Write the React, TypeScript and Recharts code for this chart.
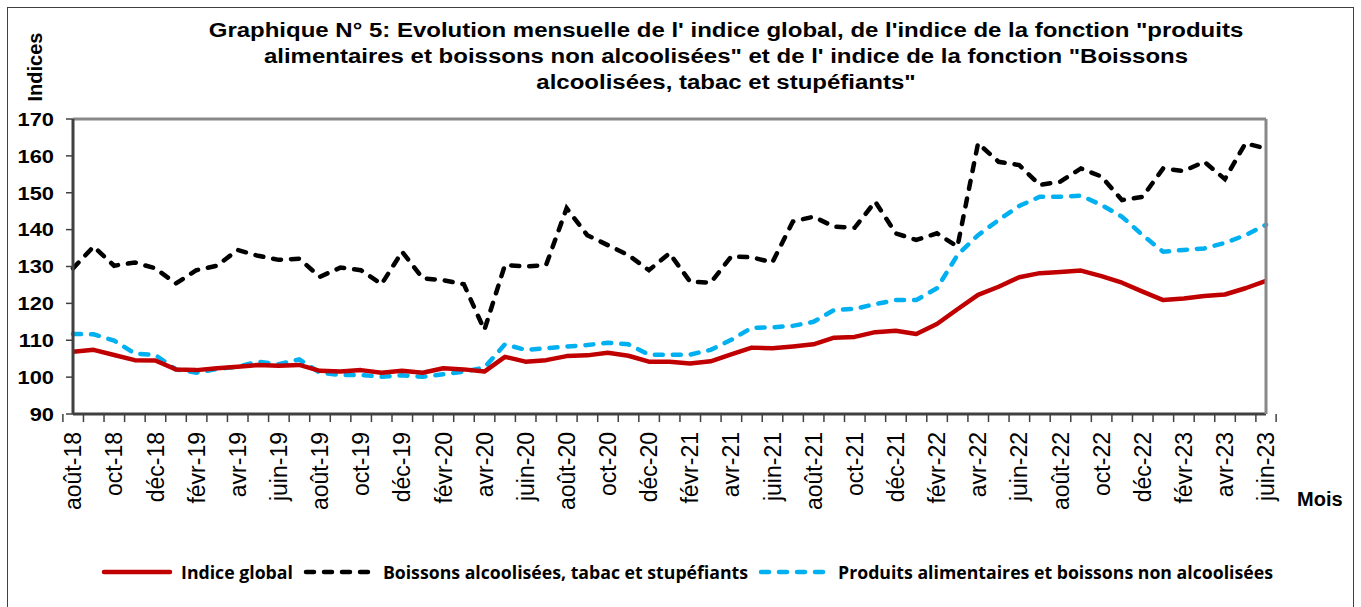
import { LineChart, Line, XAxis, YAxis, CartesianGrid, ReferenceLine } from "recharts";

const months = [
  "août-18", "sept-18", "oct-18", "nov-18", "déc-18",
  "janv-19", "févr-19", "mars-19", "avr-19", "mai-19", "juin-19", "juil-19", "août-19", "sept-19", "oct-19", "nov-19", "déc-19",
  "janv-20", "févr-20", "mars-20", "avr-20", "mai-20", "juin-20", "juil-20", "août-20", "sept-20", "oct-20", "nov-20", "déc-20",
  "janv-21", "févr-21", "mars-21", "avr-21", "mai-21", "juin-21", "juil-21", "août-21", "sept-21", "oct-21", "nov-21", "déc-21",
  "janv-22", "févr-22", "mars-22", "avr-22", "mai-22", "juin-22", "juil-22", "août-22", "sept-22", "oct-22", "nov-22", "déc-22",
  "janv-23", "févr-23", "mars-23", "avr-23", "mai-23", "juin-23",
];

const indiceGlobal = [
  106.9, 107.4, 106.0, 104.6, 104.5, 102.1, 101.9, 102.4, 102.8, 103.3,
  103.1, 103.3, 101.7, 101.5, 101.9, 101.2, 101.7, 101.2, 102.4, 102.1,
  101.5, 105.5, 104.2, 104.6, 105.7, 105.9, 106.6, 105.8, 104.2, 104.2,
  103.7, 104.3, 106.2, 108.0, 107.8, 108.3, 108.9, 110.7, 110.9, 112.2,
  112.6, 111.7, 114.4, 118.4, 122.3, 124.5, 127.1, 128.2, 128.5, 128.9,
  127.4, 125.6, 123.2, 120.9, 121.3, 122.0, 122.4, 124.1, 126.1,
];

const boissonsAlcoolisees = [
  129.5, 135.4, 130.2, 131.1, 129.5, 125.4, 129.0, 130.2, 134.5, 132.9,
  131.8, 132.1, 127.2, 129.7, 129.0, 125.2, 134.0, 126.8, 126.3, 125.2,
  112.8, 130.4, 130.0, 130.4, 145.8, 138.5, 135.8, 133.1, 129.0, 133.6,
  125.9, 125.6, 132.7, 132.5, 131.1, 142.2, 143.5, 140.8, 140.5, 147.6,
  139.0, 137.2, 139.0, 135.4, 163.4, 158.4, 157.5, 152.1, 153.0, 156.6,
  154.4, 148.0, 148.9, 156.6, 155.9, 158.4, 153.7, 163.4, 162.0,
];

const produitsAlimentaires = [
  111.7, 111.6, 109.9, 106.4, 106.0, 102.1, 101.2, 102.2, 102.8, 104.2,
  103.5, 104.8, 101.2, 100.6, 100.6, 100.1, 100.5, 100.1, 100.8, 101.5,
  102.6, 108.9, 107.4, 107.8, 108.3, 108.7, 109.3, 108.9, 106.1, 106.1,
  106.1, 107.4, 110.1, 113.4, 113.5, 113.9, 115.0, 118.2, 118.5, 119.8,
  120.9, 120.9, 124.1, 133.1, 138.5, 142.6, 146.4, 148.9, 148.9, 149.2,
  146.7, 143.5, 138.5, 134.0, 134.5, 134.9, 136.4, 138.5, 141.3,
];

const yTicks = [90, 100, 110, 120, 130, 140, 150, 160, 170];

const titleLines = [
  'Graphique N° 5: Evolution mensuelle de l\' indice global, de l\'indice de la fonction "produits',
  'alimentaires et boissons non alcoolisées" et de l\' indice de la fonction "Boissons',
  'alcoolisées, tabac et stupéfiants"',
];

const W = 1361;
const H = 607;
const PLOT_LEFT = 73;
const PLOT_RIGHT = 1266;
const PLOT_TOP = 119;
const PLOT_BOTTOM = 414;
const BAND = (PLOT_RIGHT - PLOT_LEFT) / months.length;

const RED = "#C00000";
const BLUE = "#00B0F0";
const BLACK = "#000000";
const AXIS = "#404040";
const FONT = "'Liberation Sans', Arial, sans-serif";

const data = months.map((m, i) => ({
  month: m,
  global: indiceGlobal[i],
  boissons: boissonsAlcoolisees[i],
  produits: produitsAlimentaires[i],
}));

// eslint-disable-next-line @typescript-eslint/no-explicit-any
const MonthTick = ({ x, y, payload, index }: any) => {
  const i = payload?.index ?? index;
  const half = BAND / 2;
  return (
    <g>
      <line x1={x - half} x2={x - half} y1={y} y2={y + 8} stroke={AXIS} strokeWidth={1.5} />
      {i === months.length - 1 && (
        <line x1={x + half} x2={x + half} y1={y} y2={y + 8} stroke={AXIS} strokeWidth={1.5} />
      )}
      {i % 2 === 0 && (
        <text
          transform={`translate(${x},${y + 18}) rotate(-90)`}
          textAnchor="end"
          dy="0.36em"
          fontSize={23}
          fontFamily={FONT}
          fill="#000"
        >
          {payload.value}
        </text>
      )}
    </g>
  );
};

// eslint-disable-next-line @typescript-eslint/no-explicit-any
const ValueTick = ({ x, y, payload }: any) => (
  <text
    transform={`translate(${x},${y}) scale(1.15,1)`}
    textAnchor="end"
    dy="0.36em"
    fontSize={19}
    fontWeight="bold"
    fontFamily={FONT}
    fill="#000"
  >
    {payload.value}
  </text>
);

const LegendItem = ({ color, dashed, label }: { color: string; dashed: boolean; label: string }) => (
  <div style={{ display: "flex", alignItems: "center", gap: 8 }}>
    <svg width={72} height={10}>
      <line
        x1={3}
        x2={69}
        y1={5}
        y2={5}
        stroke={color}
        strokeWidth={4.5}
        strokeLinecap="round"
        strokeDasharray={dashed ? "8 10" : undefined}
      />
    </svg>
    <span>{label}</span>
  </div>
);

export default function App() {
  return (
    <div style={{ position: "absolute", left: 0, top: 0, width: W, height: H, background: "#fff", overflow: "hidden" }}>
      <div
        style={{
          position: "absolute",
          left: 7,
          top: 7,
          width: W - 16,
          height: H,
          border: "1.5px solid #404040",
        }}
      />

      <div
        style={{
          position: "absolute",
          left: 0,
          width: 1452,
          top: 17,
          textAlign: "center",
          fontFamily: FONT,
          fontWeight: "bold",
          fontSize: 19.5,
          lineHeight: "26px",
          color: "#000",
          transform: "scaleX(1.23)",
          transformOrigin: "726px 0",
        }}
      >
        {titleLines.map((t) => (
          <div key={t}>{t}</div>
        ))}
      </div>

      <div
        style={{
          position: "absolute",
          left: 35,
          top: 67,
          transform: "translate(-50%, -50%) rotate(-90deg)",
          fontFamily: FONT,
          fontWeight: "bold",
          fontSize: 20,
          whiteSpace: "nowrap",
        }}
      >
        Indices
      </div>

      <div
        style={{
          position: "absolute",
          left: 1297,
          top: 488,
          fontFamily: FONT,
          fontWeight: "bold",
          fontSize: 20,
        }}
      >
        Mois
      </div>

      <div style={{ position: "absolute", left: 0, top: 0 }}>
        <LineChart width={W} height={H} data={data} margin={{ top: PLOT_TOP, right: 0, left: 0, bottom: 0 }}>
          <CartesianGrid horizontal vertical={false} stroke="#8a8a8a" strokeDasharray="2 2" />
          <XAxis
            dataKey="month"
            interval={0}
            height={H - PLOT_BOTTOM}
            tickSize={0}
            tickMargin={0}
            tickLine={false}
            axisLine={{ stroke: AXIS, strokeWidth: 3 }}
            tick={<MonthTick />}
          />
          <YAxis
            yAxisId="left"
            domain={[90, 170]}
            ticks={yTicks}
            width={PLOT_LEFT}
            tickSize={7}
            tickMargin={12}
            axisLine={{ stroke: AXIS, strokeWidth: 3 }}
            tickLine={{ stroke: AXIS, strokeWidth: 1.5 }}
            tick={<ValueTick />}
          />
          <YAxis
            yAxisId="right"
            orientation="right"
            domain={[90, 170]}
            ticks={yTicks}
            width={W - PLOT_RIGHT}
            tick={false}
            tickLine={false}
            axisLine={{ stroke: "#888", strokeWidth: 3 }}
          />
          <ReferenceLine yAxisId="left" y={170} stroke="#888" strokeWidth={3} />
          <Line
            yAxisId="left"
            type="linear"
            dataKey="boissons"
            stroke={BLACK}
            strokeWidth={4.5}
            strokeDasharray="8 10"
            strokeLinecap="round"
            dot={false}
            isAnimationActive={false}
          />
          <Line
            yAxisId="left"
            type="linear"
            dataKey="produits"
            stroke={BLUE}
            strokeWidth={4.5}
            strokeDasharray="8 10"
            strokeLinecap="round"
            dot={false}
            isAnimationActive={false}
          />
          <Line
            yAxisId="left"
            type="linear"
            dataKey="global"
            stroke={RED}
            strokeWidth={4.5}
            strokeLinejoin="round"
            dot={false}
            isAnimationActive={false}
          />
        </LineChart>
      </div>

      <div
        style={{
          position: "absolute",
          left: 0,
          width: 1374,
          top: 559,
          display: "flex",
          justifyContent: "center",
          gap: 10,
          fontFamily: "'Liberation Sans Narrow', 'Open Sans', sans-serif",
          fontWeight: "bold",
          fontSize: 17.7,
          lineHeight: "26px",
          color: "#000",
        }}
      >
        <LegendItem color={RED} dashed={false} label="Indice global" />
        <LegendItem color={BLACK} dashed label="Boissons alcoolisées, tabac et stupéfiants" />
        <LegendItem color={BLUE} dashed label="Produits alimentaires et boissons non alcoolisées" />
      </div>
    </div>
  );
}
